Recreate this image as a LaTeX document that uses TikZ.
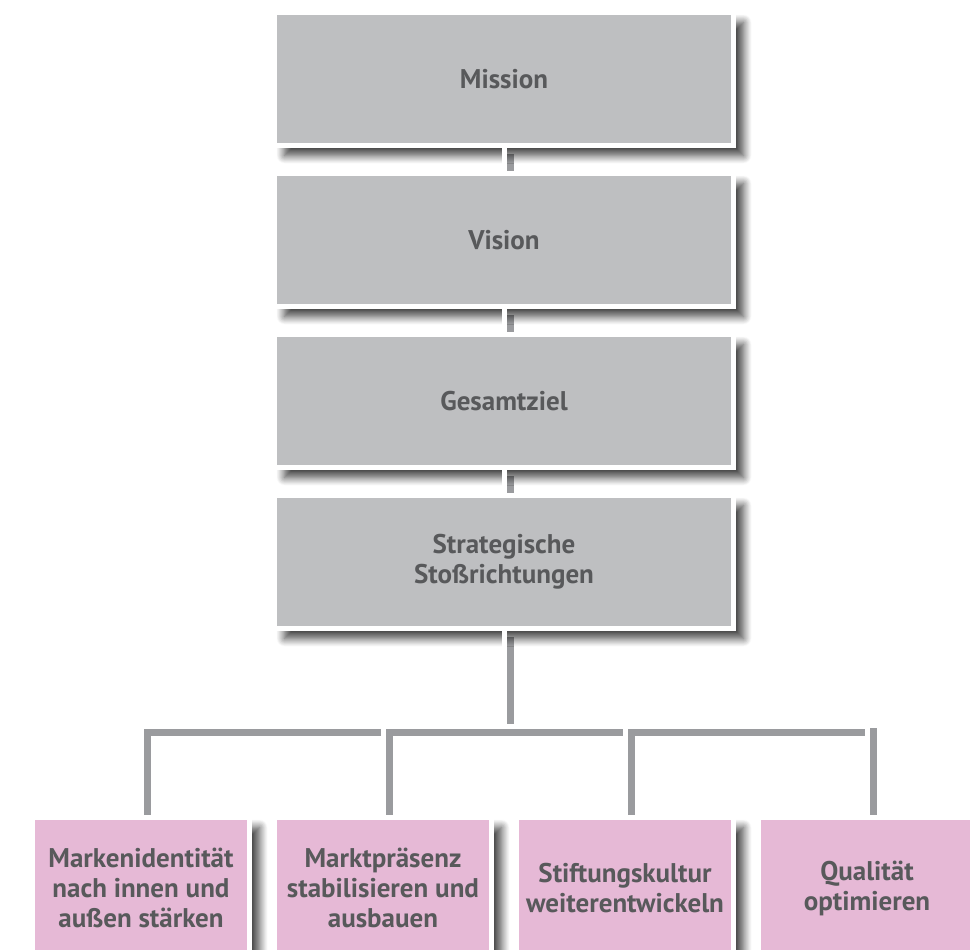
\documentclass[tikz,border=0pt]{standalone}
\usepackage{fontspec}
\setmainfont{PT Sans}
\usetikzlibrary{positioning,shadows.blur}

\definecolor{boxgray}{HTML}{BEBFC1}
\definecolor{boxpink}{HTML}{E6B9D6}
\definecolor{textgray}{HTML}{58595B}
\definecolor{wiregray}{HTML}{9A9B9E}

\pgfdeclarelayer{back}
\pgfsetlayers{back,main}

\tikzset{
  level/.style={draw=white, line width=5pt, fill=boxgray, inner sep=0pt,
    minimum width=459pt, minimum height=133pt, text=textgray, align=center,
    font=\bfseries\fontsize{27}{30}\selectfont,
    blur shadow={shadow xshift=10pt, shadow yshift=-10pt,
      shadow blur radius=8pt, shadow blur steps=12, shadow opacity=75}},
  goal/.style={level, fill=boxpink, minimum width=217pt, minimum height=141pt},
  conn/.style={draw=white, line width=5pt},
  connshadow/.style={draw=wiregray, line width=8pt,
    transform canvas={shift={(6pt,-6pt)}}}
}

% all lines of the tree, drawn twice (shadow behind, white on top)
\newcommand\treelines[1]{%
  \draw[#1] (mission) -- (vision);
  \draw[#1] (vision) -- (ziel);
  \draw[#1] (ziel) -- (strat);
  \draw[#1] (strat) -- (strat |- bar);
  \draw[#1] (m1) |- (bar -| m4) -- (m4);
  \draw[#1] (m2) -- (m2 |- bar);
  \draw[#1] (m3) -- (m3 |- bar);
}

\begin{document}
\begin{tikzpicture}[x=1pt,y=-1pt]
  \useasboundingbox (0,0) rectangle (970,950);

  % upper column
  \node[level] (mission) at (504,79) {Mission};
  \node[level, below=23pt of mission] (vision) {Vision};
  \node[level, below=23pt of vision] (ziel) {Gesamtziel};
  \node[level, below=23pt of ziel] (strat) {Strategische\\Stoßrichtungen};

  % strategic goals
  \node[goal] (m1) at (141,888) {Markenidentität\\nach innen und\\außen stärken};
  \node[goal, right=20pt of m1] (m2) {Marktpräsenz\\stabilisieren und\\ausbauen};
  \node[goal, right=20pt of m2] (m3) {Stiftungskultur\\weiterentwickeln};
  \node[goal, right=20pt of m3] (m4) {Qualität\\optimieren};

  \coordinate (bar) at (504,726);

  \begin{pgfonlayer}{back}
    \treelines{connshadow}
  \end{pgfonlayer}
  \treelines{conn}
\end{tikzpicture}
\end{document}
